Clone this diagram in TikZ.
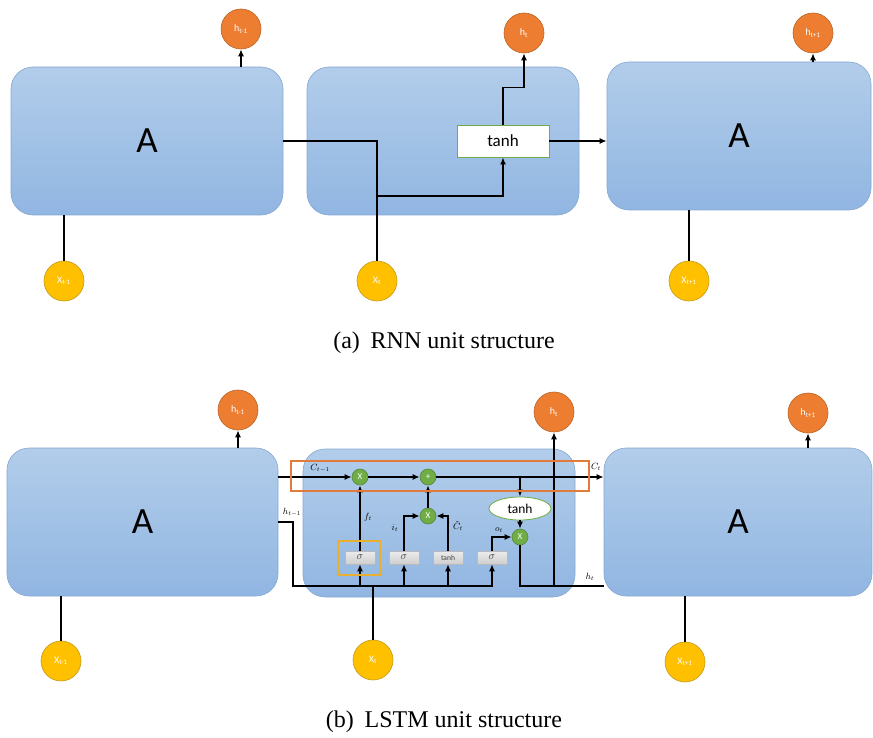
\documentclass[tikz,border=0pt]{standalone}
\usepackage{fontspec}
\setmainfont{Liberation Serif}
\newfontfamily\calibri{Carlito}
\usepackage{xcolor}
\usetikzlibrary{
  arrows.meta,
  shapes.geometric,
  positioning,
  calc
}
\definecolor{celltop}{HTML}{B2CDEA}
\definecolor{cellbot}{HTML}{91B6E2}
\definecolor{cellline}{HTML}{86A8D2}
\definecolor{hfill}{HTML}{ED7D31}
\definecolor{hedge}{HTML}{B8652A}
\definecolor{xfill}{HTML}{FFC000}
\definecolor{xedge}{HTML}{C39A1A}
\definecolor{opfill}{HTML}{70AD47}
\definecolor{opedge}{HTML}{56873A}
\definecolor{bandline}{HTML}{E07B3C}
\definecolor{fgate}{HTML}{E8B030}

\begin{document}
\begin{tikzpicture}[x=1pt, y=-1pt, line width=1.4pt,
  >={Latex[length=7pt,width=6pt]},
  cell/.style={draw=cellline, line width=0.6pt, rounded corners=22pt,
    top color=celltop, bottom color=cellbot, minimum height=148pt,
    font=\calibri\fontsize{37}{40}\selectfont},
  hout/.style={circle, draw=hedge, fill=hfill, line width=0.6pt,
    minimum size=40pt, inner sep=0pt, text=white,
    font=\calibri\fontsize{10}{11}\selectfont},
  xin/.style={hout, draw=xedge, fill=xfill},
  op/.style={circle, draw=opedge, fill=opfill, line width=0.6pt,
    minimum size=16pt, inner sep=0pt, text=white,
    font=\calibri\fontsize{9}{10}\selectfont},
  gate/.style={rectangle, draw=gray!55, line width=0.5pt,
    top color=gray!15, bottom color=gray!38, minimum width=30pt,
    minimum height=13pt, inner sep=0pt, text=black!75,
    font=\fontsize{11}{12}\selectfont},
  lbl/.style={font=\fontsize{9}{10}\selectfont, inner sep=1pt},
  captext/.style={font=\fontsize{24}{28}\selectfont}]
  \useasboundingbox (0,0) rectangle (873,738);

  % (a) RNN
  \node[cell, minimum width=272pt] (rA) at (147,141) {A};
  \node[cell, minimum width=272pt] (rB) at (443,141) {};
  \node[cell, minimum width=264pt] (rC) at (739,136) {A};
  \node[draw=opfill, fill=white, line width=0.8pt, minimum width=92pt,
    minimum height=32pt, font=\calibri\fontsize{17}{18}\selectfont]
    (rT) at (503,141) {tanh};

  \node[hout] (rh1) at (241,29) {h\textsubscript{t-1}};
  \node[hout] (rh2) at (524,33) {h\textsubscript{t}};
  \node[hout] (rh3) at (813,33) {h\textsubscript{t+1}};
  \node[xin] (rx1) at (64,281) {X\textsubscript{t-1}};
  \node[xin] (rx2) at (377,281) {X\textsubscript{t}};
  \node[xin] (rx3) at (689,281) {X\textsubscript{t+1}};

  \draw[->] (rh1 |- rA.north) -- (rh1);
  \draw[->] (rh3 |- rC.north) -- (rh3);
  \draw (rx1) -- (rx1 |- rA.south);
  \draw (rx3) -- (rx3 |- rC.south);
  \coordinate (rj) at (377,196);
  \draw (rA.east) -| (rx2);
  \draw[->] (rj) -| (rT.south);
  \draw[->] (rT.north) -- ++(0,-37) -| (rh2);
  \draw[->] (rT.east) -- (rT.east -| rC.west);

  \node[captext] (capa) at (444,343) {(a)\hspace{0.45em}RNN unit structure};

  % (b) LSTM
  \node[cell, minimum width=271pt] (lA) at (142.5,522) {A};
  \node[cell, minimum width=272pt] (lB) at (439,523) {};
  \node[cell, minimum width=268pt] (lC) at (738,522) {A};

  \node[hout] (lh1) at (238,410) {h\textsubscript{t-1}};
  \node[hout] (lh2) at (554,412) {h\textsubscript{t}};
  \node[hout] (lh3) at (808,413) {h\textsubscript{t+1}};
  \node[xin] (lx1) at (61,661) {X\textsubscript{t-1}};
  \node[xin] (lx2) at (373,660) {X\textsubscript{t}};
  \node[xin] (lx3) at (685,662) {X\textsubscript{t+1}};

  \node[op] (mf) at (360,477) {X};
  \node[op] (ad) at (428,477) {+};
  \node[op] (mi) at (428,516) {X};
  \node[op] (mo) at (520,537) {X};
  \node[ellipse, draw=opfill, fill=white, line width=0.8pt, minimum width=62pt,
    minimum height=23pt, inner sep=0pt,
    font=\calibri\fontsize{13.5}{14}\selectfont] (th) at (520,508.5) {tanh};

  \node[gate] (gf) at (360,557.5) {$\sigma$};
  \node[gate] (gi) at (404,557.5) {$\sigma$};
  \node[gate, font=\calibri\fontsize{7.5}{8}\selectfont] (gc) at (448,557.5) {tanh};
  \node[gate] (go) at (492,557.5) {$\sigma$};

  % cell state
  \draw[->] (mf -| lA.east) -- (mf);
  \draw[->] (mf) -- (ad);
  \draw[->] (ad) -- (ad -| lC.west);
  \draw[->] (th |- ad) -- (th.north);
  \draw[->] (th.south) -- (mo.north);
  \node[lbl] (cprev) at (320,468) {$C_{t-1}$};
  \node[lbl] (cnext) at (596,467) {$C_t$};

  % hidden state and input
  \coordinate (hb) at (293,586);
  \draw[->] (lA.east) -| (hb) -| (go.south);
  \foreach \g in {gf,gi,gc}
    \draw[->] (\g |- hb) -- (\g.south);
  \draw (lx2) -- (lx2 |- hb);
  \node[lbl] (hprev) at (292,512) {$h_{t-1}$};

  % gates
  \draw[->] (gf) -- (mf);
  \draw[->] (gi.north) |- (mi.west);
  \draw[->] (gc.north) |- (mi.east);
  \draw[->] (mi) -- (ad);
  \draw[->] (go.north) |- (mo.west);
  \node[lbl] (lf) at (368,517) {$f_t$};
  \node[lbl] (li) at (395,528) {$i_t$};
  \node[lbl] (lc) at (458,526) {$\tilde{C}_t$};
  \node[lbl] (lo) at (499,530) {$o_t$};

  % output
  \draw (mo.south) |- (hb -| lC.west);
  \draw[->] (hb -| lh2) -- (lh2);
  \node[lbl] (hnext) at (590,577) {$h_t$};

  \draw[->] (lh1 |- lA.north) -- (lh1);
  \draw[->] (lh3 |- lC.north) -- (lh3);
  \draw (lx1) -- (lx1 |- lA.south);
  \draw (lx3) -- (lx3 |- lC.south);

  \draw[draw=bandline, line width=1.3pt] (291,461) rectangle (589,491);
  \draw[draw=fgate, line width=1.3pt] (338,541) rectangle (380,575);

  \node[captext] (capb) at (444,722) {(b)\hspace{0.45em}LSTM unit structure};
\end{tikzpicture}
\end{document}
